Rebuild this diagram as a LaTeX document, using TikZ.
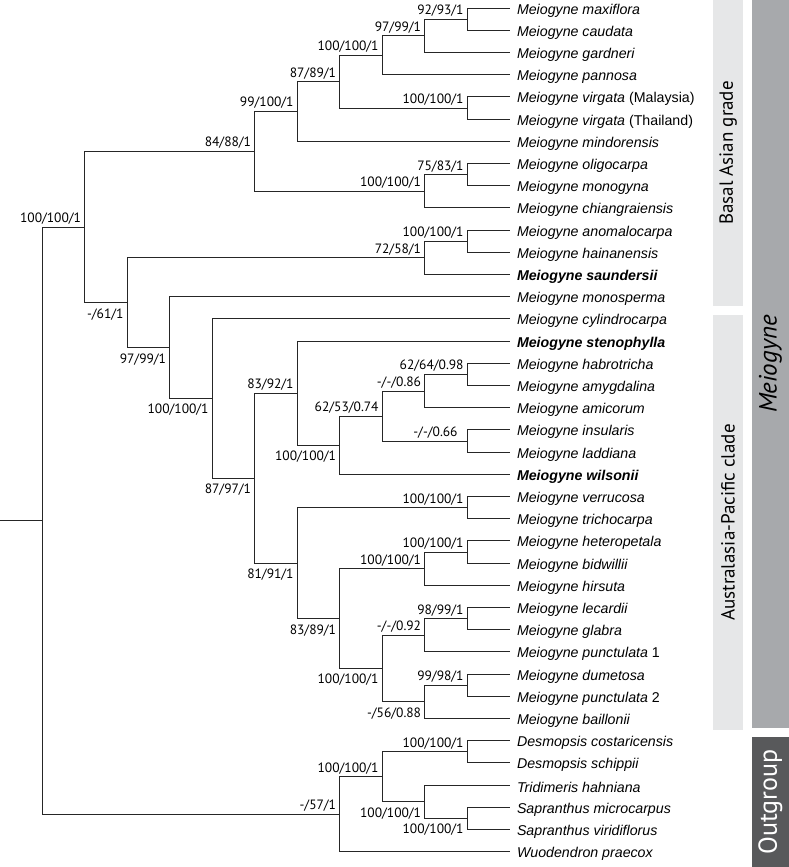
\documentclass[tikz,border=0pt]{standalone}
\usepackage{fontspec}
\setmainfont{PT Sans}
\newfontfamily\tipfont{Liberation Sans}
\usetikzlibrary{calc}

\definecolor{barlight}{HTML}{E6E7E8}
\definecolor{barmid}{HTML}{A7A9AC}
\definecolor{bardark}{HTML}{58595B}

% one clade: name, level, upper child, lower child, support, label style
\newcommand{\clade}[6]{%
  \path let \p1 = ($(#3)!.5!(#4)$), \p2 = (L#2) in (\x2,\y1) coordinate (#1);
  \draw[branch] (#3) -| (#1) |- (#4);
  \node[#6] (#1l) at (#1) {#5};
}

\begin{document}
\begin{tikzpicture}[
  x=1pt, y=-1pt,
  branch/.style={line width=0.8pt, draw=black!85},
  sup/.style={font=\fontsize{13.5}{15}\selectfont, inner sep=0pt, anchor=base east, xshift=-3.5pt},
  supup/.style={sup, yshift=4.5pt},
  supdn/.style={sup, yshift=-15.5pt},
  tip/.style={font=\tipfont\itshape\fontsize{14.2}{16}\selectfont, inner sep=0pt, anchor=west, xshift=7pt, yshift=-2.5pt},
  bar/.style={rotate=90, inner sep=0pt, font=\fontsize{19}{21}\selectfont}
]
\useasboundingbox (0,0) rectangle (789,867);

% side bars
\node[bar, fill=barlight, minimum width=306pt, minimum height=29.4pt] (basal) at (728,153) {Basal Asian grade};
\node[bar, fill=barlight, minimum width=415pt, minimum height=29.4pt] (austr) at (728,522.5) {Australasia-Pacific clade};
\node[bar, fill=barmid, minimum width=728.3pt, minimum height=37.3pt, font=\itshape\fontsize{25}{27}\selectfont] (meio) at (770.35,364.15) {Meiogyne};
\node[bar, fill=bardark, text=white, minimum width=129.7pt, minimum height=37.3pt, font=\fontsize{26}{28}\selectfont] (outg) at (770.35,802.15) {Outgroup};

% levels of the cladogram
\foreach \k in {0,...,11}
  \coordinate (L\k) at ({42.3+42.5*\k},0);

% tips
\foreach \i/\txt in {
  1/{Meiogyne maxiflora}, 2/{Meiogyne caudata}, 3/{Meiogyne gardneri},
  4/{Meiogyne pannosa}, 5/{Meiogyne virgata \textup{(Malaysia)}},
  6/{Meiogyne virgata \textup{(Thailand)}}, 7/{Meiogyne mindorensis},
  8/{Meiogyne oligocarpa}, 9/{Meiogyne monogyna}, 10/{Meiogyne chiangraiensis},
  11/{Meiogyne anomalocarpa}, 12/{Meiogyne hainanensis},
  13/{\bfseries Meiogyne saundersii}, 14/{Meiogyne monosperma},
  15/{Meiogyne cylindrocarpa}, 16/{\bfseries Meiogyne stenophylla},
  17/{Meiogyne habrotricha}, 18/{Meiogyne amygdalina}, 19/{Meiogyne amicorum},
  20/{Meiogyne insularis}, 21/{Meiogyne laddiana}, 22/{\bfseries Meiogyne wilsonii},
  23/{Meiogyne verrucosa}, 24/{Meiogyne trichocarpa}, 25/{Meiogyne heteropetala},
  26/{Meiogyne bidwillii}, 27/{Meiogyne hirsuta}, 28/{Meiogyne lecardii},
  29/{Meiogyne glabra}, 30/{Meiogyne punctulata \textup{1}},
  31/{Meiogyne dumetosa}, 32/{Meiogyne punctulata \textup{2}},
  33/{Meiogyne baillonii}, 34/{Desmopsis costaricensis}, 35/{Desmopsis schippii},
  36/{Tridimeris hahniana}, 37/{Sapranthus microcarpus},
  38/{Sapranthus viridiflorus}, 39/{Wuodendron praecox}}{
  \coordinate (t\i) at ($(L11)+(0,{8+22.2*(\i-1)})$);
  \node[tip] (n\i) at (t\i) {\txt};
}

% basal Asian grade
\clade{a1}{10}{t1}{t2}{92/93/1}{supup}
\clade{a2}{9}{a1}{t3}{97/99/1}{supup}
\clade{a3}{8}{a2}{t4}{100/100/1}{supup}
\clade{a4}{10}{t5}{t6}{100/100/1}{supup}
\clade{a5}{7}{a3}{a4}{87/89/1}{supup}
\clade{a6}{6}{a5}{t7}{99/100/1}{supup}
\clade{a7}{10}{t8}{t9}{75/83/1}{supup}
\clade{a8}{9}{a7}{t10}{100/100/1}{supup}
\clade{a9}{5}{a6}{a8}{84/88/1}{supup}
\clade{a10}{10}{t11}{t12}{100/100/1}{supup}
\clade{a11}{9}{a10}{t13}{72/58/1}{supup}

% Australasia-Pacific clade
\clade{p1}{10}{t17}{t18}{62/64/0.98}{supup}
\clade{p2}{9}{p1}{t19}{-/-/0.86}{supup}
\clade{p3}{10}{t20}{t21}{-/-/0.66}{supup, xshift=-6pt}
\clade{p4}{8}{p2}{p3}{62/53/0.74}{supup}
\clade{p5}{7}{p4}{t22}{100/100/1}{supdn}
\clade{p6}{6}{t16}{p5}{83/92/1}{supup}
\clade{p7}{10}{t23}{t24}{100/100/1}{supup}
\clade{p8}{10}{t25}{t26}{100/100/1}{supup}
\clade{p9}{9}{p8}{t27}{100/100/1}{supup}
\clade{p10}{10}{t28}{t29}{98/99/1}{supup}
\clade{p11}{9}{p10}{t30}{-/-/0.92}{supup}
\clade{p12}{10}{t31}{t32}{99/98/1}{supup}
\clade{p13}{9}{p12}{t33}{-/56/0.88}{supdn}
\clade{p14}{8}{p11}{p13}{100/100/1}{supdn}
\clade{p15}{7}{p9}{p14}{83/89/1}{supdn}
\clade{p16}{6}{p7}{p15}{81/91/1}{supdn}
\clade{p17}{5}{p6}{p16}{87/97/1}{supdn}
\clade{p18}{4}{t15}{p17}{100/100/1}{supdn}
\clade{p19}{3}{t14}{p18}{97/99/1}{supdn}

% Meiogyne
\clade{m2}{2}{a11}{p19}{-/61/1}{supdn}
\clade{m1}{1}{a9}{m2}{100/100/1}{supup}

% outgroup
\clade{o1}{10}{t34}{t35}{100/100/1}{supup}
\clade{o2}{10}{t37}{t38}{100/100/1}{supdn}
\clade{o3}{9}{t36}{o2}{100/100/1}{supdn}
\clade{o4}{8}{o1}{o3}{100/100/1}{supup}
\clade{o5}{7}{o4}{t39}{-/57/1}{supup}

% root
\path let \p1 = ($(m1)!.5!(o5)$), \p2 = (L0) in (\x2,\y1) coordinate (root);
\coordinate (stub) at ([xshift=-42.3pt]root);
\draw[branch] (m1) -| (root) |- (o5);
\draw[branch] (stub) -- (root);
\end{tikzpicture}
\end{document}
